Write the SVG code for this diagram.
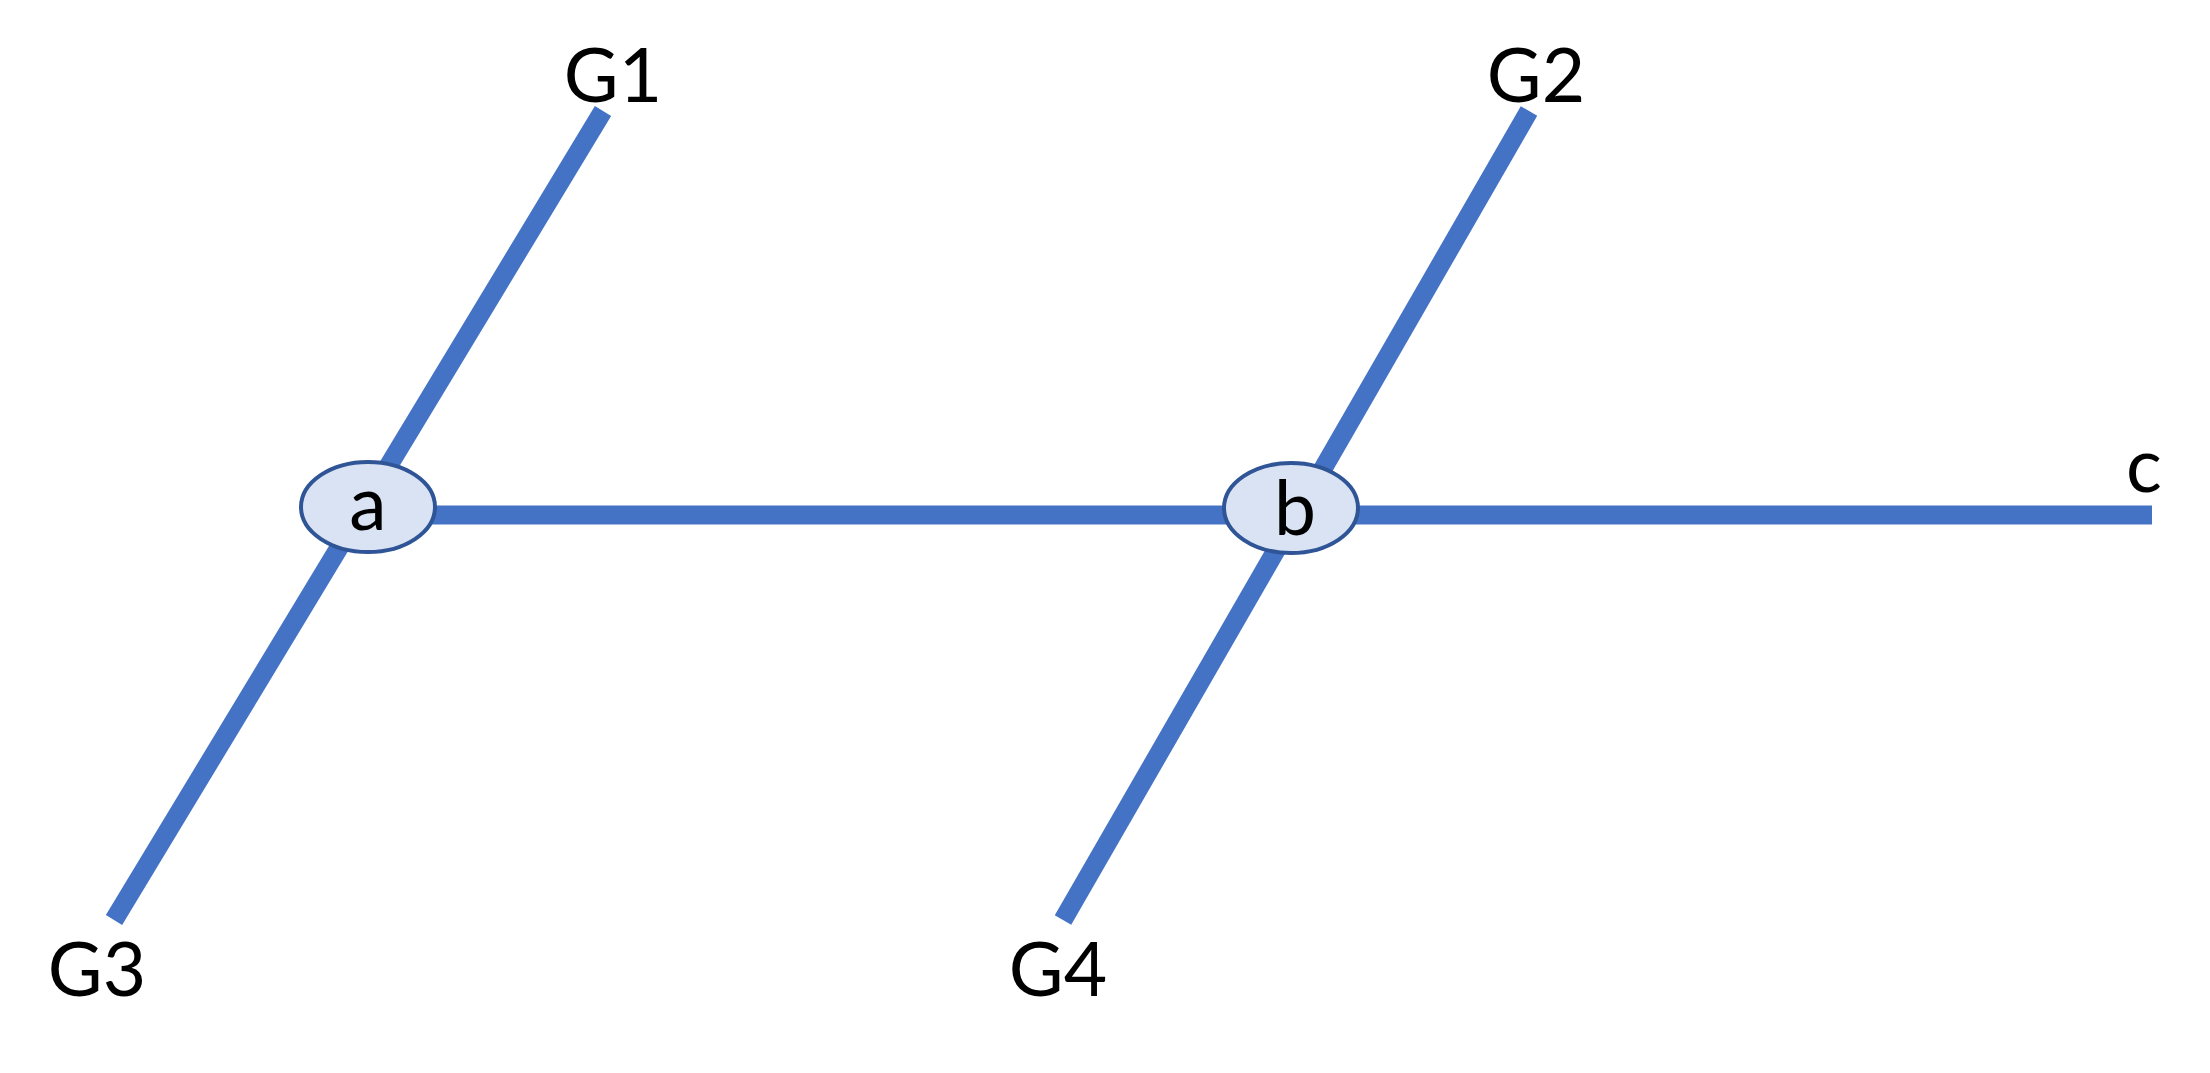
<svg xmlns="http://www.w3.org/2000/svg" width="2210" height="1073" viewBox="0 0 2210 1073">
<style>
.edge{stroke:#4472C4;stroke-width:19;fill:none;stroke-linecap:butt}
.node{fill:#DAE3F3;stroke:#2F5597;stroke-width:4}
.lbl{font-family:Lato,"Open Sans","Liberation Sans",sans-serif;font-size:75px;fill:#000;text-anchor:middle}
</style>
<rect width="2210" height="1073" fill="#fff"/>
<g id="connectors">
<line class="edge" x1="603" y1="111" x2="114" y2="920"/>
<line class="edge" x1="1529" y1="111" x2="1063" y2="920"/>
<line class="edge" x1="368" y1="515" x2="2152" y2="515"/>
</g>
<g id="node-a">
<ellipse class="node" cx="368" cy="507" rx="67" ry="45"/>
<text class="lbl" x="368" y="530" font-size="80">a</text>
</g>
<g id="node-b">
<ellipse class="node" cx="1291" cy="508" rx="67" ry="45"/>
<text class="lbl" x="1295" y="535">b</text>
</g>
<g id="label-G1"><text class="lbl" x="613" y="102">G1</text></g>
<g id="label-G2"><text class="lbl" x="1536" y="102">G2</text></g>
<g id="label-G3"><text class="lbl" x="97" y="996">G3</text></g>
<g id="label-G4"><text class="lbl" x="1058" y="996">G4</text></g>
<g id="label-c"><text class="lbl" x="2144" y="492">c</text></g>
</svg>
